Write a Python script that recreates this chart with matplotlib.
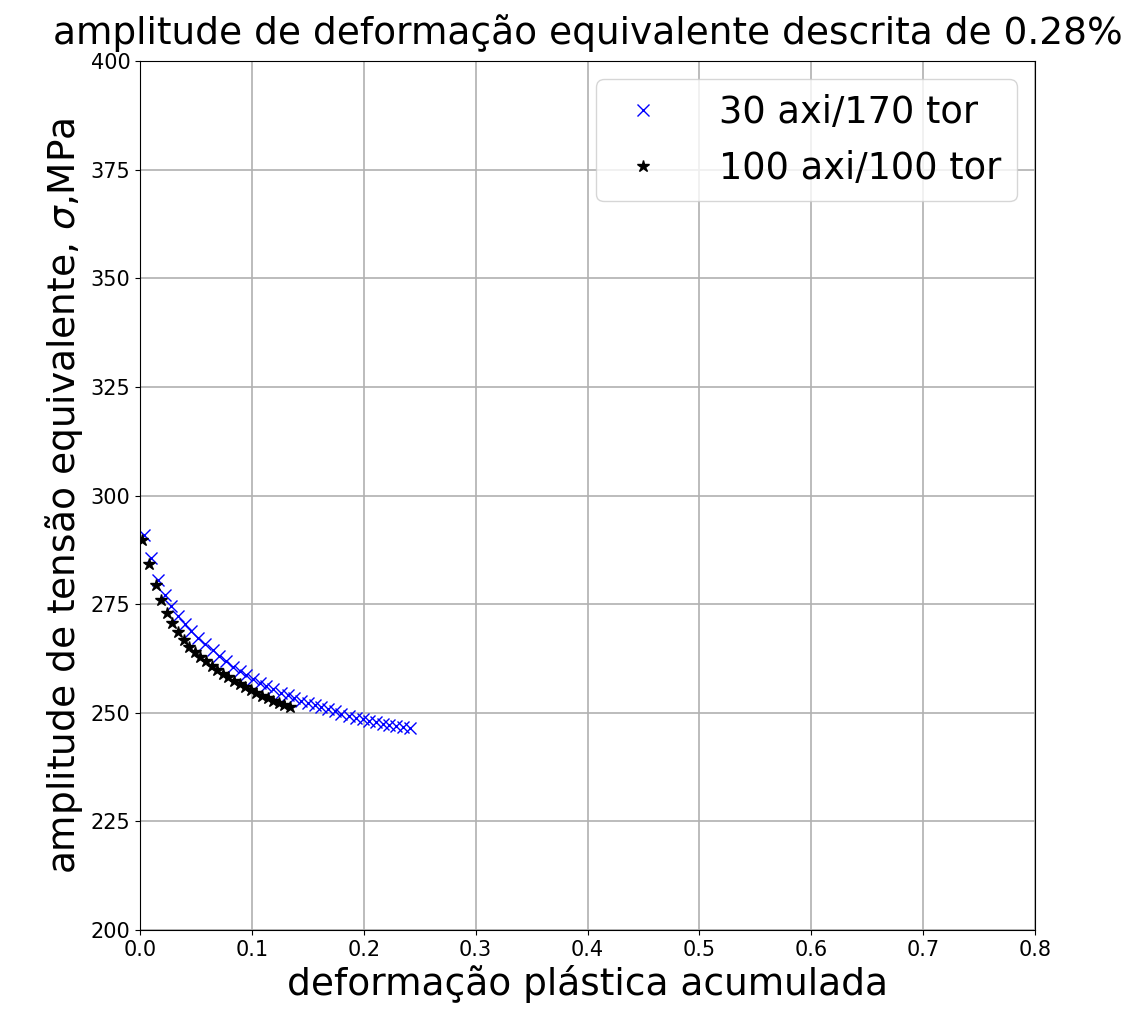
import matplotlib
matplotlib.use("Agg")
from matplotlib import pyplot

# accumulated plastic strain vs equivalent stress amplitude, per cycle
p_30_170 = [0.004, 0.010, 0.016, 0.022, 0.028, 0.034, 0.040, 0.046, 0.052, 0.058,
            0.065, 0.071, 0.077, 0.083, 0.089, 0.095, 0.101, 0.107, 0.113, 0.119,
            0.126, 0.132, 0.138, 0.144, 0.150, 0.156, 0.162, 0.168, 0.174, 0.180,
            0.187, 0.193, 0.199, 0.205, 0.211, 0.217, 0.223, 0.229, 0.235, 0.241]
s_30_170 = [290.8, 285.6, 280.6, 277.0, 274.5, 272.3, 270.4, 268.7, 267.2, 265.8,
            264.4, 263.0, 261.8, 260.6, 259.5, 258.6, 257.7, 256.9, 256.1, 255.4,
            254.6, 254.0, 253.4, 252.8, 252.3, 251.8, 251.3, 250.8, 250.3, 249.8,
            249.3, 248.9, 248.5, 248.1, 247.8, 247.5, 247.2, 246.9, 246.7, 246.5]

p_100_100 = [0.002, 0.008, 0.014, 0.019, 0.024, 0.029, 0.034, 0.039, 0.044, 0.049,
             0.054, 0.059, 0.064, 0.069, 0.074, 0.079, 0.084, 0.089, 0.094, 0.099,
             0.104, 0.109, 0.114, 0.119, 0.124, 0.129, 0.134]
s_100_100 = [289.8, 284.3, 279.5, 276.0, 273.0, 270.6, 268.5, 266.7, 265.2, 263.9,
             262.8, 261.8, 260.8, 259.9, 259.0, 258.2, 257.4, 256.6, 255.9, 255.2,
             254.5, 253.9, 253.3, 252.8, 252.3, 251.8, 251.3]

fig = pyplot.figure(figsize=(11.28, 10.24), dpi=100)
axs = fig.add_axes([140 / 1128, 1 - 930 / 1024, 895 / 1128, 869 / 1024])

axs.plot(p_30_170, s_30_170, 'bx', markersize=8, label='30 axi/170 tor')
axs.plot(p_100_100, s_100_100, 'k*', markersize=9, label='100 axi/100 tor')

axs.set_xlim(0, 0.8)
axs.set_ylim(200, 400)
axs.grid(True, color='#b0b0b0', linewidth=1.2)
axs.tick_params(labelsize=15)
axs.set_xlabel("deformação plástica acumulada", fontsize=27)
axs.set_ylabel(r"amplitude de tensão equivalente, $\sigma$,MPa", fontsize=27)
axs.set_title("amplitude de deformação equivalente descrita de 0.28%",
              fontsize=27, pad=12)
axs.legend(loc='upper right', fontsize=26.5, handlelength=1.75,
           handletextpad=1.2)

fig.savefig("out.png")
